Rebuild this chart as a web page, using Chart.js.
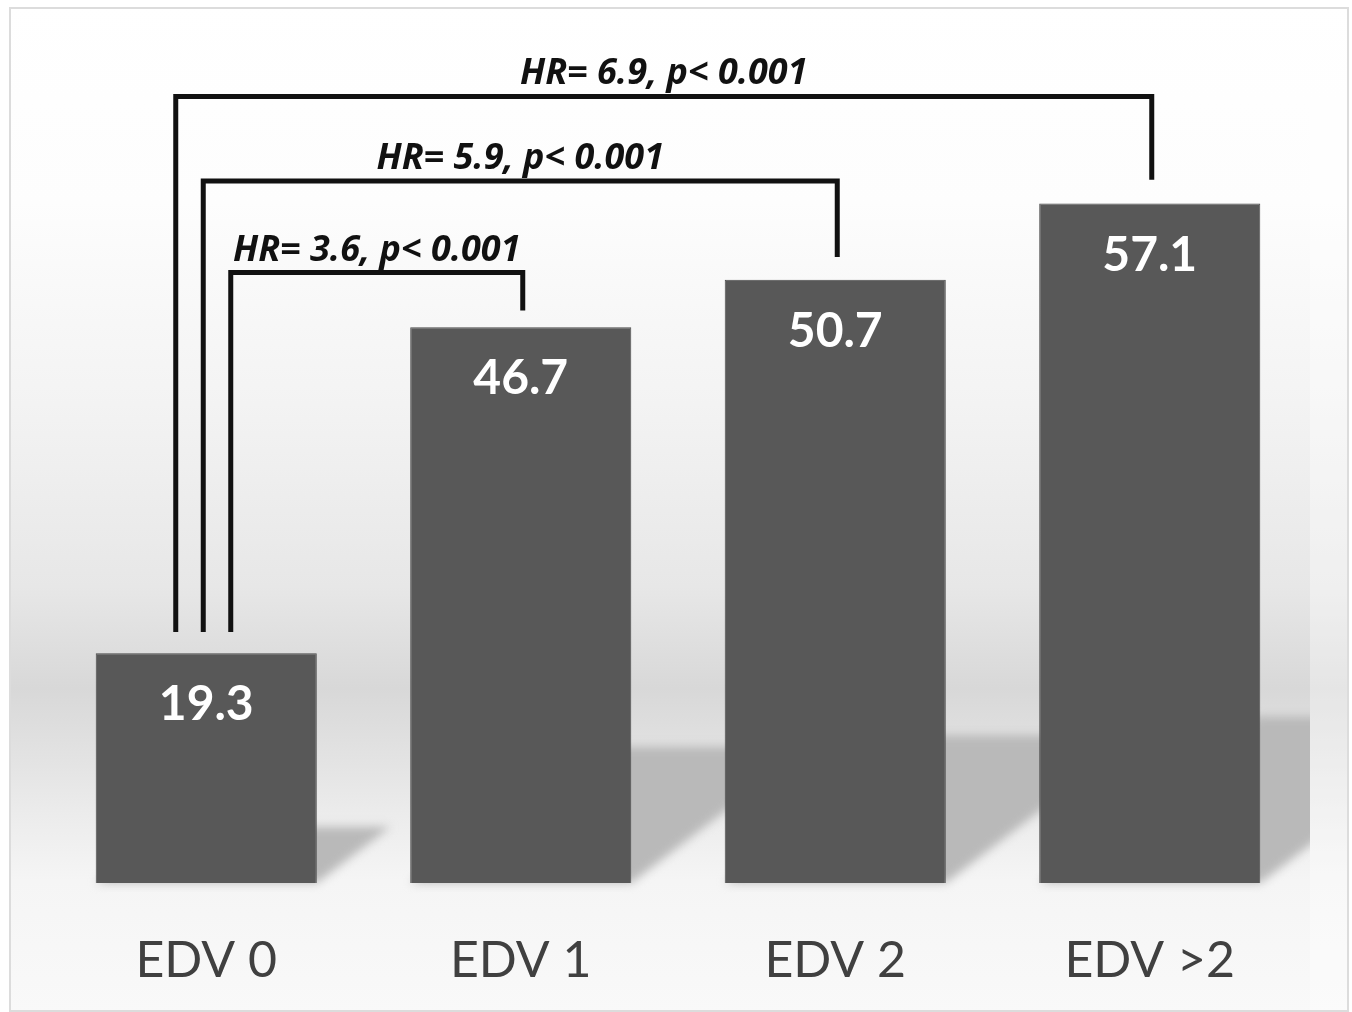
<!DOCTYPE html>
<html>
<head>
<meta charset="utf-8">
<script src="https://cdn.jsdelivr.net/npm/chart.js@4/dist/chart.umd.min.js"></script>
<style>
  html, body { margin: 0; padding: 0; background: #ffffff; }
  #wrap { width: 1352px; height: 1012px; position: relative; }
</style>
</head>
<body>
<div id="wrap"><canvas id="myChart"></canvas></div>
<script>
// chart values
const categories = ['EDV 0', 'EDV 1', 'EDV 2', 'EDV >2'];
const rates = [19.3, 46.7, 50.7, 57.1];

// hazard ratio brackets: each compares EDV 0 with another group
const hrText = ['HR= 3.6, p< 0.001', 'HR= 5.9, p< 0.001', 'HR= 6.9, p< 0.001'];
const hrTarget = [1, 2, 3];
const hrLevel = [51.3, 59.0, 66.1];
const hrRightEnd = [48.1, 52.6, 59.1];
const hrLeftEnd = 21.1;

// background, frame and soft bar shadows
const backdrop = {
  id: 'backdrop',
  beforeDraw(chart) {
    const ctx = chart.ctx;
    const H = chart.height;
    ctx.save();
    const g = ctx.createLinearGradient(0, 0, 0, H);
    g.addColorStop(0, '#ffffff');
    g.addColorStop(0.2, '#fdfdfd');
    g.addColorStop(0.4, '#f3f3f3');
    g.addColorStop(0.58, '#e7e7e7');
    g.addColorStop(0.68, '#d8d8d8');
    g.addColorStop(0.72, '#dedede');
    g.addColorStop(0.8, '#ebebeb');
    g.addColorStop(0.87, '#f5f5f5');
    g.addColorStop(1, '#f9f9f9');
    ctx.fillStyle = g;
    ctx.fillRect(11, 9, 1336, 1001);
    ctx.fillStyle = 'rgba(255,255,255,0.35)';
    ctx.fillRect(1310, 9, 37, 1001);
    ctx.strokeStyle = '#dcdcdc';
    ctx.lineWidth = 2;
    ctx.strokeRect(10, 8, 1338, 1003);
    ctx.restore();
  },
  beforeDatasetsDraw(chart) {
    const ctx = chart.ctx;
    const meta = chart.getDatasetMeta(0);
    ctx.save();
    ctx.beginPath();
    ctx.rect(11, 9, 1299, 1000);
    ctx.clip();
    ctx.filter = 'blur(5px)';
    ctx.fillStyle = '#b9b9b9';
    meta.data.forEach(bar => {
      const h = bar.base - bar.y;
      const l = bar.x - bar.width / 2, r = bar.x + bar.width / 2;
      const dx = 0.32 * h, dy = 0.245 * h;
      ctx.beginPath();
      ctx.moveTo(l, bar.base);
      ctx.lineTo(r, bar.base);
      ctx.lineTo(r + dx, bar.base - dy);
      ctx.lineTo(l + dx, bar.base - dy);
      ctx.closePath();
      ctx.fill();
    });
    ctx.restore();
  }
};

// values written inside the bars
const valueLabels = {
  id: 'valueLabels',
  afterDatasetsDraw(chart) {
    const ctx = chart.ctx;
    const meta = chart.getDatasetMeta(0);
    ctx.save();
    ctx.fillStyle = '#ffffff';
    ctx.font = 'bold 48px Lato';
    ctx.textAlign = 'center';
    ctx.textBaseline = 'alphabetic';
    meta.data.forEach((bar, i) => {
      ctx.fillText(rates[i].toFixed(1), bar.x, bar.y + 67);
    });
    ctx.restore();
  }
};

// HR brackets above the bars
const brackets = {
  id: 'brackets',
  afterDraw(chart) {
    const ctx = chart.ctx;
    const xs = chart.scales.x, ys = chart.scales.y;
    const x0 = xs.getPixelForValue(0);
    ctx.save();
    ctx.strokeStyle = '#111111';
    ctx.lineWidth = 5;
    ctx.lineJoin = 'miter';
    ctx.fillStyle = '#111111';
    ctx.font = 'italic bold 36px "Open Sans"';
    ctx.textAlign = 'center';
    ctx.textBaseline = 'alphabetic';
    hrText.forEach((txt, i) => {
      const lx = x0 + 24.5 - 27.5 * i;
      const rx = xs.getPixelForValue(hrTarget[i]) + 2;
      const top = ys.getPixelForValue(hrLevel[i]);
      ctx.beginPath();
      ctx.moveTo(lx, ys.getPixelForValue(hrLeftEnd));
      ctx.lineTo(lx, top);
      ctx.lineTo(rx, top);
      ctx.lineTo(rx, ys.getPixelForValue(hrRightEnd[i]));
      ctx.stroke();
      ctx.fillText(txt, (lx + rx) / 2, top - 12);
    });
    ctx.restore();
  }
};

function initChart(target) {
  return new Chart(target, {
    type: 'bar',
    data: {
      labels: categories,
      datasets: [{
        data: rates,
        backgroundColor: '#585858',
        borderColor: '#4a4a4a',
        borderWidth: 1,
        categoryPercentage: 1,
        barPercentage: 0.703
      }]
    },
    options: {
      responsive: true,
      maintainAspectRatio: false,
      animation: false,
      layout: { padding: { left: 49, right: 45, top: 50, bottom: 0 } },
      plugins: { legend: { display: false }, tooltip: { enabled: false } },
      scales: {
        x: {
          grid: { display: false, drawTicks: false },
          border: { display: false },
          ticks: { color: '#404040', font: { family: 'Lato', size: 50 }, padding: 48 },
          afterFit: (scale) => { scale.height = 129; }
        },
        y: { display: false, min: 0, max: 70 }
      }
    },
    plugins: [backdrop, valueLabels, brackets]
  });
}

document.addEventListener('DOMContentLoaded', () => {
  initChart(document.querySelector('#myChart'));
});
</script>
</body>
</html>
